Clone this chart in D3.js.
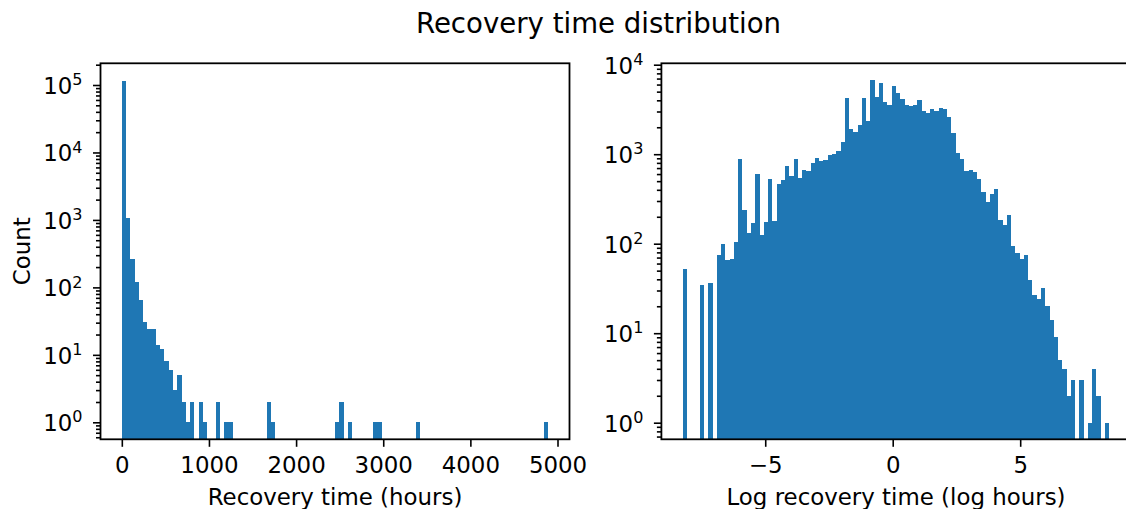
<!DOCTYPE html>
<html><head><meta charset="utf-8">
<script src="https://cdn.jsdelivr.net/npm/d3@7"></script>
<style>
body{margin:0;background:#fff}
svg{display:block}
text{font-family:"DejaVu Sans",sans-serif;fill:#000}
</style>
</head><body>
<svg id="c" width="1126" height="509"></svg>
<script>
// ---- data ----
const leftRange = [0, 4893];            // histogram bin range (hours)
const leftCounts = [116000,1067,264,121,66,31,24,24,14,12,8,6,3,5,2,1,2,0,2,1,
  0,0,2,0,1,1,0,0,0,0,0,0,0,0,2,1,0,0,0,0,
  0,0,0,0,0,0,0,0,0,0,1,2,0,1,0,0,0,0,0,1,
  1,0,0,0,0,0,0,0,0,1,0,0,0,0,0,0,0,0,0,0,
  0,0,0,0,0,0,0,0,0,0,0,0,0,0,0,0,0,0,0,1];
const rightRange = [-8.236, 8.494];     // histogram bin range (log hours)
const rightCounts = [52,0,0,0,35,0,36,0,75,99,66,67,104,884,238,132,171,601,125,175,
  528,180,465,515,738,570,884,542,665,649,798,907,847,861,979,1005,1086,1368,4245,1910,
  1770,2118,4245,2350,6745,4355,6250,3830,3545,5780,4830,4140,3545,3455,3545,4035,3040,2885,3200,3040,
  3280,3200,2605,1725,1030,884,649,665,632,528,378,292,359,408,184,162,209,94,79,67,
  75,39,27,24,32,20,14,9,5,4,2,3,0,3,0,1,4,2,0,1];
const leftXTicks = [0,1000,2000,3000,4000,5000];
const rightXTicks = [-5,0,5];
const leftYExps = [0,1,2,3,4,5];
const rightYExps = [0,1,2,3,4];
const title = "Recovery time distribution";
const leftXLabel = "Recovery time (hours)";
const rightXLabel = "Log recovery time (log hours)";
const yLabel = "Count";

// ---- layout ----
const svg = d3.select("#c");
const color = "#1f77b4";
const FS = 22.9;
const plotTop = 63.3, plotBottom = 439.3;
const majorLen = 7.5, minorLen = 4.5, tickW = 1.6;

function margin5(r){ const d=(r[1]-r[0])*0.05; return [r[0]-d, r[1]+d]; }

function panel(opts){
  const {x0,x1,range,counts,xTicks,yExps,yDomain,xLabel} = opts;
  const x = d3.scaleLinear().domain(margin5(range)).range([x0,x1]);
  const y = d3.scaleLog().domain(yDomain).range([plotBottom, plotTop]);
  const g = svg.append("g");
  const n = counts.length, w = (range[1]-range[0])/n;
  const bins = counts.map((c,i)=>({a:range[0]+i*w, b:range[0]+(i+1)*w, c}));
  g.append("g").selectAll("rect").data(bins.filter(d=>d.c>0)).join("rect")
    .attr("x", d=>x(d.a)).attr("width", d=>x(d.b)-x(d.a))
    .attr("y", d=>y(d.c)).attr("height", d=>plotBottom-y(d.c))
    .attr("fill", color).attr("shape-rendering","crispEdges");

  // x axis
  const ax = g.append("g").attr("transform",`translate(0,${plotBottom})`)
    .call(d3.axisBottom(x).tickValues(xTicks).tickSize(majorLen).tickPadding(10.3)
      .tickFormat(d=>d3.format("")(d).replace("-","\u2212")));
  ax.select(".domain").remove();
  ax.selectAll("line").attr("stroke","#000").attr("stroke-width",tickW);
  ax.selectAll("text").attr("font-size",FS).attr("font-family","DejaVu Sans");

  // y minor ticks
  const [lo,hi] = yDomain;
  const minors = [];
  for(let e=Math.floor(Math.log10(lo)); e<=Math.ceil(Math.log10(hi)); e++)
    for(let m=2;m<=9;m++){ const v=m*Math.pow(10,e); if(v>=lo && v<=hi) minors.push(v); }
  const aminor = g.append("g").attr("transform",`translate(${x0},0)`)
    .call(d3.axisLeft(y).tickValues(minors).tickSize(minorLen).tickFormat(""));
  aminor.select(".domain").remove();
  aminor.selectAll("line").attr("stroke","#000").attr("stroke-width",tickW);

  // y major ticks
  const amaj = g.append("g").attr("transform",`translate(${x0},0)`)
    .call(d3.axisLeft(y).tickValues(yExps.map(e=>Math.pow(10,e))).tickSize(majorLen).tickPadding(10.5).tickFormat(""));
  amaj.select(".domain").remove();
  amaj.selectAll("line").attr("stroke","#000").attr("stroke-width",tickW);
  amaj.selectAll(".tick text").each(function(d){
    const t = d3.select(this).attr("font-size",FS).attr("dy","0.37em").attr("font-family","DejaVu Sans");
    t.text(null);
    t.append("tspan").text("10");
    t.append("tspan").attr("font-size",FS*0.7).attr("dy","-0.55em").text(String(Math.round(Math.log10(d))));
  });

  // spines
  g.append("rect").attr("x",x0).attr("y",plotTop).attr("width",x1-x0).attr("height",plotBottom-plotTop)
    .attr("fill","none").attr("stroke","#000").attr("stroke-width",1.8);

  // x label
  g.append("text").attr("x",(x0+x1)/2).attr("y",505).attr("text-anchor","middle")
    .attr("font-size",FS).text(xLabel);
  return {x,y};
}

panel({x0:100.5, x1:569.5, range:leftRange, counts:leftCounts, xTicks:leftXTicks,
  yExps:leftYExps, yDomain:[Math.pow(10,-0.252), Math.pow(10,5.3217)], xLabel:leftXLabel});
panel({x0:661.4, x1:1130.6, range:rightRange, counts:rightCounts, xTicks:rightXTicks,
  yExps:rightYExps, yDomain:[Math.pow(10,-0.1855), Math.pow(10,4.0157)], xLabel:rightXLabel});

svg.append("text").attr("x",598.5).attr("y",33).attr("text-anchor","middle")
  .attr("font-size",27.6).text(title);
svg.append("text").attr("transform","translate(30,251.3) rotate(-90)").attr("text-anchor","middle")
  .attr("font-size",FS).text(yLabel);
</script>
</body></html>
